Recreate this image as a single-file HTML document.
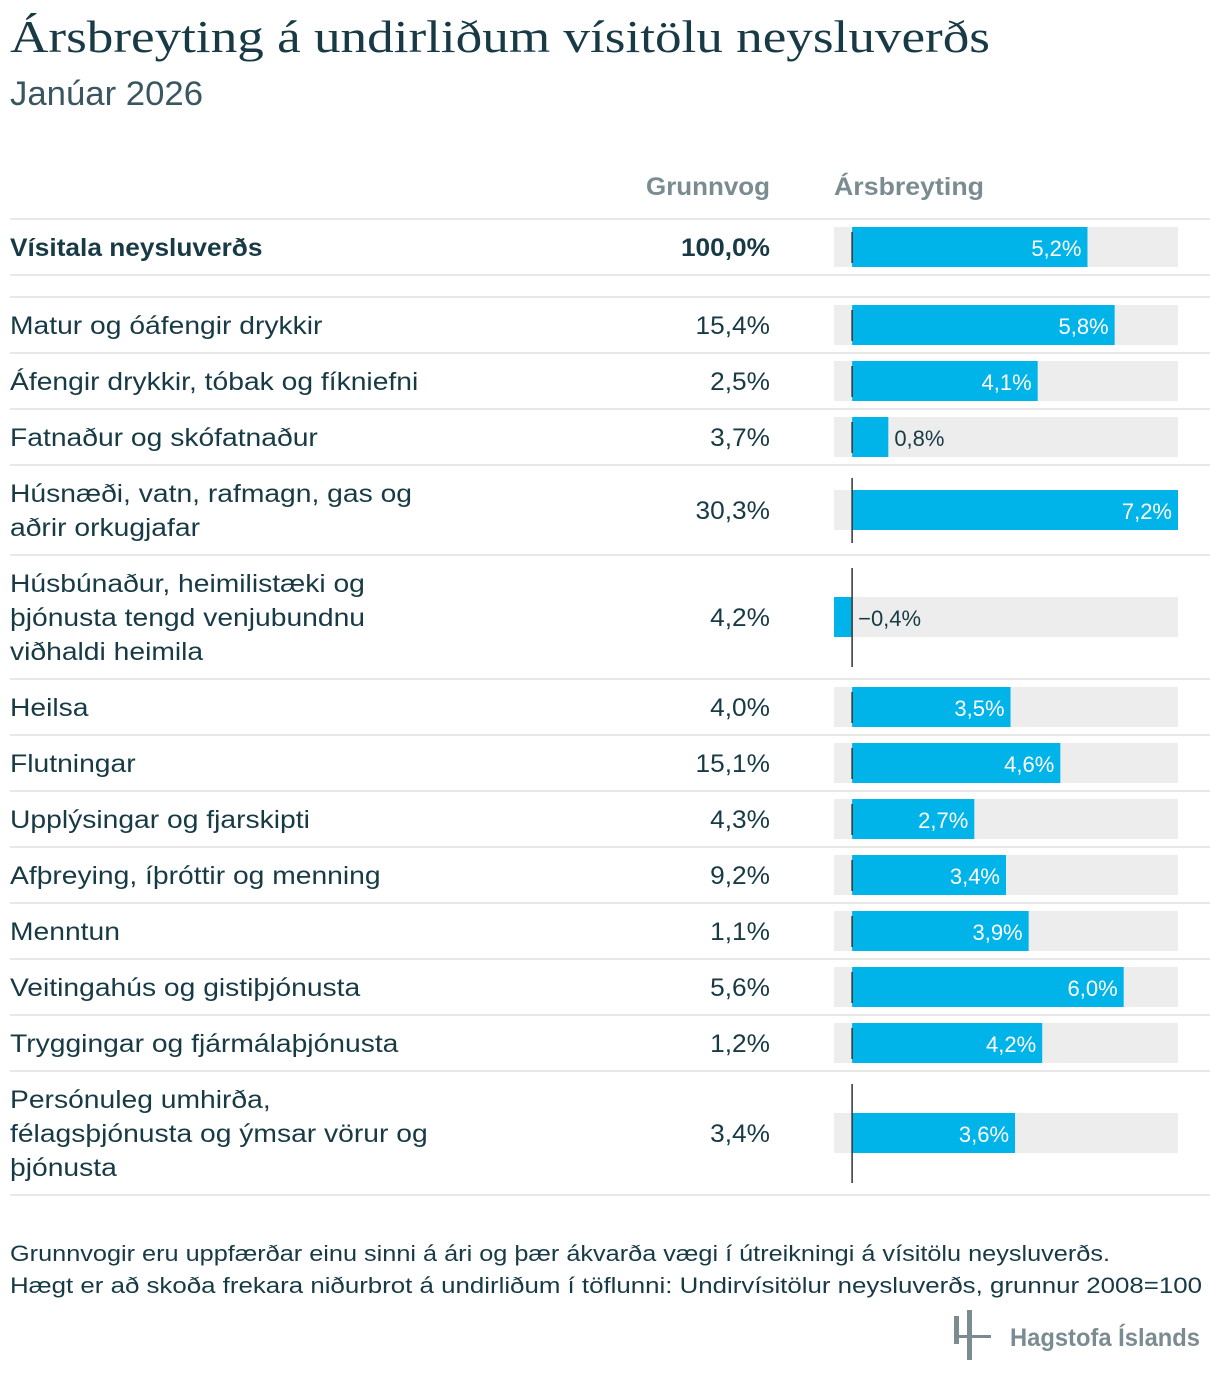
<!DOCTYPE html>
<html><head><meta charset="utf-8"><style>
body{margin:0;background:#fff;}
svg{display:block;font-family:"Liberation Sans",sans-serif;}
</style></head><body>
<svg id="c" width="1220" height="1386">
<text x="10" y="52" font-family="Liberation Serif,serif" font-size="46" fill="#173a45" textLength="980" lengthAdjust="spacingAndGlyphs">Ársbreyting á undirliðum vísitölu neysluverðs</text>
<text x="10" y="105" font-size="34" fill="#3a5660" textLength="193" lengthAdjust="spacingAndGlyphs">Janúar 2026</text>
<text x="770" y="195" font-size="25" fill="#7a8b91" font-weight="bold" text-anchor="end" textLength="124" lengthAdjust="spacingAndGlyphs">Grunnvog</text>
<text x="834" y="195" font-size="25" fill="#7a8b91" font-weight="bold" textLength="150" lengthAdjust="spacingAndGlyphs">Ársbreyting</text>
<g id="rows"></g>
<text x="10" y="1261" font-size="22" fill="#173a45" textLength="1100" lengthAdjust="spacingAndGlyphs">Grunnvogir eru uppfærðar einu sinni á ári og þær ákvarða vægi í útreikningi á vísitölu neysluverðs.</text>
<text x="10" y="1293" font-size="22" fill="#173a45" textLength="1192" lengthAdjust="spacingAndGlyphs">Hægt er að skoða frekara niðurbrot á undirliðum í töflunni: Undirvísitölur neysluverðs, grunnur 2008=100</text>
<g>
<rect x="954" y="1316" width="5" height="28" fill="#7a8b91"/>
<rect x="967" y="1310" width="5" height="50" fill="#7a8b91"/>
<rect x="954" y="1335" width="37" height="3" fill="#7a8b91"/>
<text x="1010" y="1346" font-size="25" fill="#7a8b91" font-weight="bold" textLength="190" lengthAdjust="spacingAndGlyphs">Hagstofa Íslands</text>
</g>
</svg>
<script>
const categories=[["Vísitala neysluverðs"],["Matur og óáfengir drykkir"],["Áfengir drykkir, tóbak og fíkniefni"],["Fatnaður og skófatnaður"],["Húsnæði, vatn, rafmagn, gas og","aðrir orkugjafar"],["Húsbúnaður, heimilistæki og","þjónusta tengd venjubundnu","viðhaldi heimila"],["Heilsa"],["Flutningar"],["Upplýsingar og fjarskipti"],["Afþreying, íþróttir og menning"],["Menntun"],["Veitingahús og gistiþjónusta"],["Tryggingar og fjármálaþjónusta"],["Persónuleg umhirða,","félagsþjónusta og ýmsar vörur og","þjónusta"]];
const weights=[100.0,15.4,2.5,3.7,30.3,4.2,4.0,15.1,4.3,9.2,1.1,5.6,1.2,3.4];
const changes=[5.2,5.8,4.1,0.8,7.2,-0.4,3.5,4.6,2.7,3.4,3.9,6.0,4.2,3.6];
const NS="http://www.w3.org/2000/svg";
const g=document.getElementById('rows');
const xMin=-0.4,xMax=7.2,px0=834,px1=1178;
const x=v=>px0+(v-xMin)/(xMax-xMin)*(px1-px0);
const fmt=v=>(v<0?"−":"")+Math.abs(v).toFixed(1).replace('.',',')+"%";
function el(t,a,p){const e=document.createElementNS(NS,t);for(const k in a)e.setAttribute(k,a[k]);(p||g).appendChild(e);return e;}
function stretch(t,f){const L=t.getComputedTextLength();t.setAttribute('textLength',L*f);t.setAttribute('lengthAdjust','spacingAndGlyphs');}
let y=219;
function hline(yy){const l=el('line',{x1:10,x2:1210,y1:yy,y2:yy,stroke:'#e8e8e8','stroke-width':2});

}
hline(y);
categories.forEach((lines,i)=>{
  if(i===1){y+=22;hline(y);}
  const h=lines.length===1?56:(lines.length===2?90:124);
  const cy=y+h/2;
  const row=el('g',{});
  
  
  const bold=i===0?'bold':'normal';
  lines.forEach((s,j)=>{
    const t=el('text',{x:10,y:cy+9+(j-(lines.length-1)/2)*34,'font-size':25,fill:'#173a45','font-weight':bold},row);
    t.textContent=s;
    
    
    stretch(t,i===0?1.05:1.13);
  });
  const w=el('text',{x:770,y:cy+9,'font-size':25,fill:'#173a45','text-anchor':'end','font-weight':bold},row);
  w.textContent=weights[i].toFixed(1).replace('.',',')+"%";
  
  
  stretch(w,1.05);
  const bg=el('rect',{x:px0,y:cy-20,width:px1-px0,height:40,fill:'#ededed'},row);
  
  
  const v=changes[i],a=x(Math.min(0,v)),b=x(Math.max(0,v));
  const bar=el('rect',{x:a,y:cy-20,width:b-a,height:40,fill:'#00b4ea'},row);
  
  
  const zl=el('line',{x1:x(0),x2:x(0),y1:y+13,y2:y+h-12,stroke:'#333','stroke-width':1.5},row);
  
  
  let lx,anchor,col;
  if(v<0){lx=x(0)+6;anchor='start';col='#173a45';}
  else if(b-a>60){lx=b-6;anchor='end';col='#fff';}
  else{lx=b+6;anchor='start';col='#173a45';}
  const vl=el('text',{x:lx,y:cy+9,'font-size':22,fill:col,'text-anchor':anchor},row);
  vl.textContent=fmt(v);
  
  
  y+=h;hline(y);
});
</script>
</body></html>
